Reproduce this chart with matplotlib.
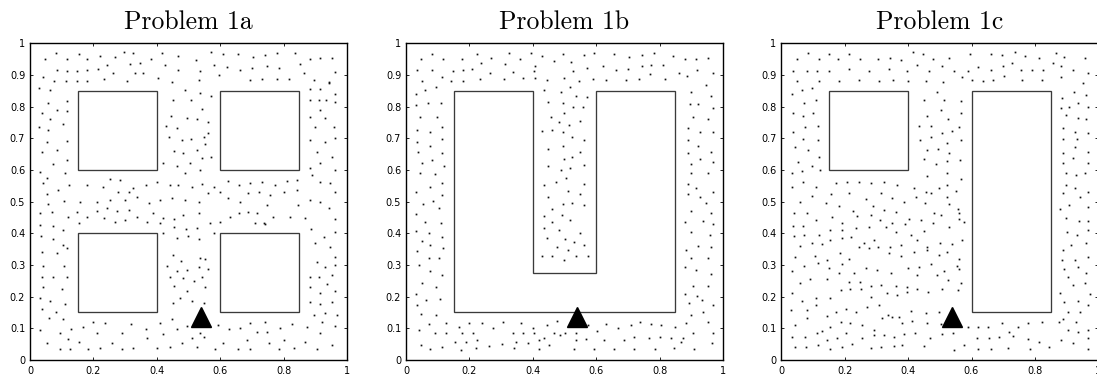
import matplotlib
matplotlib.use("Agg")
import matplotlib.pyplot as plt
from matplotlib.patches import Polygon

# ---------------- data (coordinates in thousandths of the unit square) ----------------
dots_1a = [
    (47,951),(82,968),(116,951),(155,966),(179,951),(221,960),(244,932),(268,956),(295,972),(326,968),
    (314,935),(347,937),(381,951),(416,968),(426,932),(468,960),(523,947),(572,971),(608,965),(656,965),
    (705,956),(742,963),(779,968),(837,968),(884,951),(916,953),(953,955),
    (42,893),(84,916),(116,914),(149,914),(181,916),(213,918),(263,905),(305,882),(332,907),(358,905),
    (405,892),(447,879),(468,916),(537,913),(534,884),(579,932),(595,900),(621,926),(661,916),(700,921),
    (732,887),(747,929),(784,921),(816,887),(853,934),(863,905),(895,884),(942,876),(963,908),
    (29,860),(76,882),(114,882),(149,882),(181,882),(234,886),(695,884),(779,886),
    (63,853),(37,781),(84,789),(116,819),(116,786),(56,811),(63,761),(29,735),(105,745),(58,726),
    (53,689),(84,663),(116,693),(37,656),(72,619),(116,632),(32,593),(111,592),(53,574),(42,558),
    (89,537),(124,553),(53,523),(58,493),(107,503),(32,463),(68,466),(121,453),(32,425),(72,424),
    (105,411),(35,392),(72,382),(105,363),(37,342),(84,337),(116,353),(42,298),(107,297),(39,263),
    (74,263),(116,261),(42,232),(100,223),(32,197),(63,187),(111,176),(37,161),(82,153),(60,132),(105,129),
    (32,95),(53,53),(95,84),(95,34),(121,65),(126,34),(129,98),(153,58),(168,105),(182,35),(200,119),
    (211,84),(221,37),(237,118),(258,53),(289,34),(289,84),(318,114),(326,37),(365,97),(368,68),
    (402,37),(411,116),(421,81),(442,42),(447,128),(463,97),(479,55),(495,107),(511,68),(528,42),
    (535,86),(549,74),(584,34),(592,111),(608,53),(629,97),(655,34),(661,100),(684,63),(693,34),
    (695,116),(716,89),(740,121),(747,89),(753,53),(784,34),(789,100),(800,63),(834,37),(826,114),
    (868,58),(874,105),(905,34),(916,86),(921,119),(953,47),(963,107),(968,142),
    (882,855),(916,855),(961,840),(942,879),(884,821),(911,821),(935,821),(963,816),(884,768),(900,737),
    (916,789),(932,763),(958,737),(884,695),(932,689),(963,700),(905,658),(953,642),(882,605),(916,621),
    (963,600),(889,584),(916,563),(947,558),(963,532),(884,505),(916,500),(942,479),(963,444),(887,413),
    (929,389),(963,405),(900,368),(947,358),(963,326),(905,311),(932,295),(963,299),(882,263),(911,263),
    (953,267),(882,232),(937,240),(916,213),(963,219),(882,182),(916,177),(953,182),(895,142),(932,147),
    (489,853),(537,842),(571,834),(451,821),(507,821),(444,772),(542,793),(428,740),(463,732),(495,763),
    (526,761),(563,753),(437,705),(479,695),(509,698),(549,705),(563,716),(453,661),(482,653),(526,663),
    (553,682),(421,623),(463,614),(505,621),(542,637),(571,642),(489,589),(537,600),
    (181,553),(229,547),(253,572),(284,568),(326,544),(366,553),(402,563),(442,553),(468,553),(511,547),
    (542,556),(579,547),(626,565),(658,551),(695,560),(732,563),(774,553),(811,565),(842,568),
    (158,500),(211,500),(253,505),(279,532),(311,532),(300,505),(337,516),(374,495),(411,505),(447,511),
    (489,505),(532,500),(563,526),(600,532),(626,511),(663,500),(689,526),(721,532),(747,489),(758,521),
    (800,532),(842,537),(847,489),
    (147,466),(181,451),(211,472),(242,479),(274,472),(311,474),(337,451),(387,463),(421,447),(453,445),
    (484,458),(532,465),(568,432),(600,437),(632,451),(658,463),(689,468),(716,463),(737,434),(768,453),
    (821,453),(868,447),(153,434),(232,447),(268,437),(300,442),(368,435),(411,432),(453,421),(493,414),
    (526,418),(711,434),(742,429),
    (421,400),(463,384),(497,392),(534,382),(579,400),(451,331),(476,313),(537,321),(553,318),(432,298),
    (463,282),(495,284),(532,295),(563,286),(442,263),(482,260),(516,249),(544,263),(453,235),(495,219),
    (553,232),(474,195),(511,187),(451,181),(549,181),
]

dots_1b = [
    (47,951),(82,965),(116,951),(177,951),(223,965),(237,937),(267,953),(325,968),(312,935),(360,951),
    (393,968),(406,929),(430,960),(467,944),(494,966),(520,942),(562,963),(594,968),(571,923),(620,928),
    (657,965),(662,916),(703,956),(699,919),(745,963),(745,929),(781,968),(773,932),(812,932),(842,960),
    (881,951),(916,951),(953,953),
    (35,916),(82,916),(148,914),(179,916),(209,919),(265,905),(338,908),(404,913),(527,911),(49,881),
    (114,893),(143,882),(179,882),(233,886),(309,886),(369,892),(406,889),(444,884),(497,892),(546,882),
    (591,887),(631,884),(694,884),(734,886),(771,903),(818,887),(861,905),(886,897),(919,916),(968,907),
    (945,868),
    (32,840),(61,853),(95,861),(70,811),(32,805),(109,811),(45,766),(98,768),(114,735),(35,726),
    (77,719),(35,689),(114,697),(77,676),(38,656),(114,653),(49,623),(82,632),(120,614),(45,589),
    (93,587),(30,529),(77,545),(114,558),(53,493),(84,503),(105,479),(114,521),(32,460),(61,437),
    (109,434),(32,407),(72,400),(49,376),(112,387),(35,345),(77,363),(118,353),(72,321),(103,321),
    (40,300),(77,282),(114,267),(49,242),(95,232),(32,208),(63,189),(107,192),(35,174),(46,144),
    (95,142),(72,114),(42,95),(93,84),(127,84),(127,116),(46,47),(77,34),(112,42),
    (167,105),(200,118),(241,118),(306,119),(362,116),(401,100),(444,111),(476,124),(177,84),(211,84),
    (274,100),(338,84),(370,84),(404,84),(436,68),(467,84),(502,86),(536,86),(573,111),(604,92),
    (631,114),(668,100),(710,111),(738,121),(773,114),(805,111),(850,105),(873,71),(882,116),(905,84),
    (154,58),(188,58),(225,63),(262,44),(304,49),(348,58),(385,55),(420,63),(452,47),(485,79),
    (536,63),(568,65),(626,63),(689,63),(720,72),(766,68),(800,72),(837,68),(868,58),(172,32),
    (222,37),(341,37),(418,34),(531,34),(594,34),(657,34),(720,34),(784,34),(847,37),(907,34),
    (966,53),(968,84),
    (900,847),(963,835),(895,808),(921,808),(968,795),(905,768),(953,761),(889,734),(926,721),(968,719),
    (889,695),(921,677),(889,653),(961,656),(900,619),(926,635),(968,624),(900,589),(953,592),(889,556),
    (916,542),(889,524),(926,516),(968,532),(900,472),(945,495),(963,463),(879,437),(937,440),(968,429),
    (900,405),(958,395),(884,347),(921,361),(963,358),(900,321),(953,321),(879,295),(916,284),(963,272),
    (905,234),(953,234),(879,208),(919,203),(892,181),(935,189),(968,174),(937,153),(900,142),(953,121),
    (436,853),(488,847),(518,863),(536,834),(570,832),(449,816),(494,813),(527,800),(559,798),(497,779),
    (457,768),(483,751),(515,742),(550,756),(430,723),(462,726),(494,719),(523,705),(562,695),(449,666),
    (494,677),(550,658),(525,642),(449,614),(499,635),(488,600),(517,607),(562,616),(436,553),(473,561),
    (506,574),(562,556),(510,534),(449,516),(549,523),(462,476),(494,493),(523,497),(562,489),(436,455),
    (492,458),(517,442),(462,437),(436,416),(483,411),(549,402),(446,384),(502,382),(530,372),(562,363),
    (475,358),(510,347),(430,328),(462,328),(499,316),(536,328),(573,328),
]

dots_1c = [
    (50,949),(84,968),(118,951),(152,966),(179,951),(213,965),(247,951),(305,951),(343,953),(379,947),
    (414,971),(448,966),(479,951),(530,955),(595,966),(661,965),(696,963),(737,971),(770,960),(814,955),
    (865,968),(893,958),(959,955),
    (37,914),(81,911),(113,914),(150,914),(213,918),(276,914),(340,918),(395,914),(429,932),(466,914),
    (508,928),(545,914),(590,914),(621,926),(661,916),(698,928),(728,939),(756,916),(790,916),(825,916),
    (857,939),(883,929),(920,916),(969,907),
    (50,881),(118,881),(181,881),(245,884),(308,881),(353,884),(401,881),(456,881),(511,879),(569,895),
    (600,884),(635,881),(667,884),(704,897),(758,884),(822,884),(883,893),(952,874),
    (34,840),(65,851),(97,858),(71,813),(108,821),(36,779),(69,772),(100,779),(76,737),(115,740),
    (36,719),(69,698),(115,695),(44,671),(84,663),(118,642),(52,626),(97,611),(34,589),(65,597),(123,600),
    (450,821),(491,847),(512,821),(566,819),(461,771),(503,789),(527,761),(566,779),(435,740),(472,739),
    (506,716),(540,723),(561,735),(438,695),(472,703),(524,684),(566,695),(461,663),(493,665),(530,653),
    (450,634),(487,619),(524,628),(564,632),(524,592),(461,581),(566,571),
    (34,547),(69,563),(111,547),(171,558),(208,563),(245,563),(284,560),(324,563),(364,551),(419,542),
    (456,529),(498,542),(524,553),(551,534),(60,500),(97,518),(157,523),(213,528),(266,507),(313,528),
    (350,511),(387,498),(424,516),(472,528),(522,514),(39,463),(81,463),(142,495),(181,487),(227,472),
    (290,487),(324,474),(361,468),(403,446),(454,497),(482,465),(530,493),(556,476),(37,424),(69,423),
    (108,442),(160,453),(192,434),(239,455),(282,458),(311,442),(350,432),(389,429),(440,442),(503,458),
    (559,463),(575,437),(39,392),(73,395),(120,395),(155,411),(190,411),(237,416),(276,421),(329,419),
    (361,405),(408,395),(450,407),(477,432),(530,421),(561,445),(60,360),(97,368),(129,365),(155,379),
    (192,384),(220,387),(261,371),(292,379),(343,358),(377,363),(429,379),(461,358),(500,368),(537,366),
    (569,379),(42,324),(105,329),(145,316),(184,337),(213,318),(245,358),(276,353),(306,358),(340,337),
    (379,328),(419,340),(461,347),(498,332),(524,342),(561,320),(34,282),(73,298),(116,305),(150,289),
    (192,302),(229,274),(266,289),(303,284),(345,274),(401,289),(435,295),(472,303),(514,282),(554,297),
    (58,244),(92,255),(145,256),(181,274),(213,245),(248,247),(282,234),(315,237),(361,234),(396,232),
    (429,268),(491,268),(526,253),(561,286),(34,211),(65,187),(108,197),(155,195),(187,221),(216,223),
    (250,224),(282,200),(332,213),(366,205),(398,216),(427,223),(464,216),(508,224),(556,221),(566,242),
    (32,158),(81,158),(111,174),(145,139),(171,151),(203,160),(236,151),(271,168),(308,174),(338,142),
    (371,137),(408,156),(458,147),(498,151),(540,153),(44,111),(81,132),(127,92),(153,105),(187,121),
    (218,116),(255,111),(292,95),(319,132),(350,137),(382,116),(411,124),(459,116),(503,113),(34,74),
    (76,74),(113,84),(145,63),(176,68),(203,84),(255,68),(292,79),(324,79),(356,72),(387,82),
    (422,84),(469,68),(508,81),(543,84),(44,42),(79,42),(115,47),(155,34),(190,42),(224,51),
    (282,37),(315,42),(356,44),(382,47),(450,44),(545,32),(577,47),
    (588,105),(619,105),(651,105),(696,116),(719,89),(746,105),(777,116),(822,121),(876,121),(904,95),
    (936,89),(967,95),(617,68),(654,68),(688,74),(730,76),(777,65),(814,58),(846,42),(883,63),
    (920,53),(967,68),(619,34),(661,34),(714,37),(783,34),(967,34),(930,121),
    (886,826),(922,845),(962,837),(883,795),(906,800),(936,811),(967,800),(899,774),(936,763),(962,761),
    (888,734),(925,721),(967,716),(888,697),(933,698),(888,655),(925,674),(967,658),(888,621),(920,637),
    (967,621),(899,589),(930,584),(957,589),(899,553),(925,542),(967,532),(888,528),(941,514),(878,476),
    (909,489),(967,484),(899,447),(938,440),(967,439),(902,405),(934,395),(967,411),(888,347),(915,363),
    (962,368),(886,316),(925,316),(967,326),(893,286),(936,295),(962,274),(904,263),(920,237),(957,242),
    (880,211),(893,184),(936,187),(973,207),(904,153),(941,153),(967,174),(888,128),
]

# obstacles (polygon vertices in unit-square coordinates)
obstacles_1a = [
    [(0.15, 0.15), (0.40, 0.15), (0.40, 0.40), (0.15, 0.40)],
    [(0.60, 0.15), (0.85, 0.15), (0.85, 0.40), (0.60, 0.40)],
    [(0.15, 0.60), (0.40, 0.60), (0.40, 0.85), (0.15, 0.85)],
    [(0.60, 0.60), (0.85, 0.60), (0.85, 0.85), (0.60, 0.85)],
]
obstacles_1b = [
    [(0.15, 0.15), (0.85, 0.15), (0.85, 0.85), (0.60, 0.85), (0.60, 0.275),
     (0.40, 0.275), (0.40, 0.85), (0.15, 0.85)],
]
obstacles_1c = [
    [(0.15, 0.60), (0.40, 0.60), (0.40, 0.85), (0.15, 0.85)],
    [(0.60, 0.15), (0.85, 0.15), (0.85, 0.85), (0.60, 0.85)],
]
base_station = (0.54, 0.135)

titles = ["Problem 1a", "Problem 1b", "Problem 1c"]
x_ticks = [0, 0.2, 0.4, 0.6, 0.8, 1]
x_ticklabels = ["0", "0.2", "0.4", "0.6", "0.8", "1"]
y_ticks = [0, 0.1, 0.2, 0.3, 0.4, 0.5, 0.6, 0.7, 0.8, 0.9, 1]
y_ticklabels = ["0", "0.1", "0.2", "0.3", "0.4", "0.5", "0.6", "0.7", "0.8", "0.9", "1"]

panels = [(dots_1a, obstacles_1a), (dots_1b, obstacles_1b), (dots_1c, obstacles_1c)]

# ---------------- figure ----------------
W, H = 1097, 380
fig = plt.figure(figsize=(W / 100, H / 100), dpi=100)
lefts_px = [30.0, 406.0, 781.3]
ax_w_px, ax_h_px = 317.0, 316.7
bottom_px = 20.0

for (dots, obst), left, title in zip(panels, lefts_px, titles):
    ax = fig.add_axes([left / W, bottom_px / H, ax_w_px / W, ax_h_px / H])
    xs = [p[0] / 1000 for p in dots]
    ys = [p[1] / 1000 for p in dots]
    ax.plot(xs, ys, linestyle="none", marker="s", ms=1.25, mew=0, color="#111111")
    for verts in obst:
        ax.add_patch(Polygon(verts, closed=True, fill=False, edgecolor="#3a3a3a", lw=0.95))
    ax.plot([base_station[0]], [base_station[1]], marker="^", ms=14.5, color="k", linestyle="none")
    ax.set_xlim(0, 1)
    ax.set_ylim(0, 1)
    ax.set_xticks(x_ticks)
    ax.set_xticklabels(x_ticklabels)
    ax.set_yticks(y_ticks)
    ax.set_yticklabels(y_ticklabels)
    ax.tick_params(direction="in", length=2.5, width=0.6, top=True, right=True,
                   labelsize=7, colors="k")
    ax.tick_params(axis="y", pad=3.5)
    ax.tick_params(axis="x", pad=4.0)
    for lab in ax.get_xticklabels() + ax.get_yticklabels():
        lab.set_family("DejaVu Sans")
    for s in ax.spines.values():
        s.set_linewidth(1.0)
        s.set_color("k")
    ax.set_title(title, fontfamily="cmr10", fontsize=18.5, pad=10.5)

fig.savefig("out.png", dpi=100)
